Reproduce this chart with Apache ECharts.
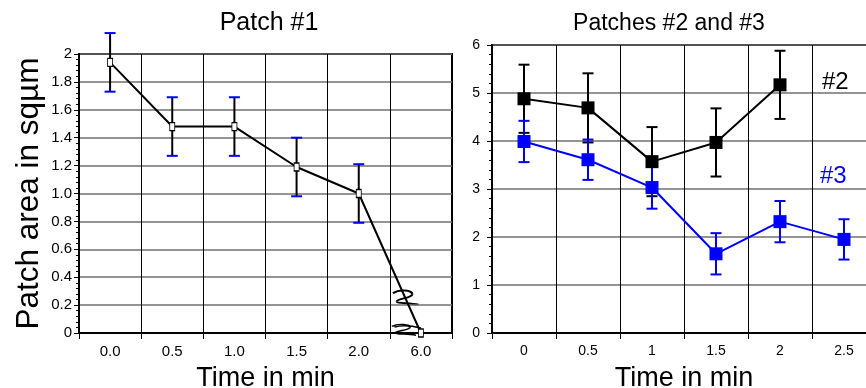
<!DOCTYPE html>
<html>
<head>
<meta charset="utf-8">
<script src="https://cdn.jsdelivr.net/npm/echarts@6/dist/echarts.min.js"></script>
<style>
  html, body { margin: 0; padding: 0; background: #fff; }
  #chart { width: 866px; height: 388px; }
</style>
</head>
<body>
<div id="chart"></div>
<script>
// Patch #1 (left panel)
var timeLeft = ['0.0', '0.5', '1.0', '1.5', '2.0', '6.0'];
var patch1 = [1.94, 1.48, 1.48, 1.19, 1.0, 0];
var patch1Err = [0.21, 0.21, 0.21, 0.21, 0.21, null];

// Patches #2 and #3 (right panel)
var timeRight = ['0', '0.5', '1', '1.5', '2', '2.5'];
var patch2 = [4.88, 4.69, 3.57, 3.97, 5.17, null];
var patch2Err = [0.71, 0.72, 0.72, 0.71, 0.71, null];
var patch3 = [3.99, 3.61, 3.03, 1.65, 2.32, 1.95];
var patch3Err = [0.43, 0.42, 0.44, 0.43, 0.43, 0.42];

var FONT = 'Liberation Sans, Arial, sans-serif';

// build [index, low, high] for the error bar series
function errData(mean, err) {
    var out = [];
    mean.forEach(function (m, i) {
        if (m == null || err[i] == null) return;
        out.push([i, m - err[i], m + err[i]]);
    });
    return out;
}

// error bar: stem in one colour, caps in another
function errBar(stemColor, capColor, capW) {
    return function (params, api) {
        var lo = api.coord([api.value(0), api.value(1)]);
        var hi = api.coord([api.value(0), api.value(2)]);
        var x = hi[0];
        return {
            type: 'group',
            children: [
                { type: 'line', shape: { x1: x, y1: hi[1], x2: x, y2: lo[1] }, style: { stroke: stemColor, lineWidth: 2 } },
                { type: 'line', shape: { x1: x - capW / 2, y1: hi[1], x2: x + capW / 2, y2: hi[1] }, style: { stroke: capColor, lineWidth: 2 } },
                { type: 'line', shape: { x1: x - capW / 2, y1: lo[1], x2: x + capW / 2, y2: lo[1] }, style: { stroke: capColor, lineWidth: 2 } }
            ]
        };
    };
}

function xAxisOf(gridIndex, cats, labelSize) {
    return {
        type: 'category',
        gridIndex: gridIndex,
        data: cats,
        boundaryGap: true,
        name: 'Time in min',
        nameLocation: 'middle',
        nameGap: 32,
        nameTextStyle: { fontSize: 27, color: '#000', fontFamily: FONT },
        axisLine: { lineStyle: { color: '#000', width: 2 } },
        axisTick: { show: true, length: 6, lineStyle: { color: '#000', width: 1 } },
        axisLabel: { fontSize: labelSize, color: '#000', fontFamily: FONT, margin: 11 },
        splitLine: { show: true, lineStyle: { color: '#000', width: 1 } }
    };
}

function yAxisOf(gridIndex, max, interval, margin, labelSize) {
    return {
        type: 'value',
        gridIndex: gridIndex,
        min: 0,
        max: max,
        interval: interval,
        axisLine: { show: true, lineStyle: { color: '#000', width: 2 } },
        axisTick: { show: true, length: 5, lineStyle: { color: '#000' } },
        minorTick: { show: true, splitNumber: 5, length: 3, lineStyle: { color: '#000' } },
        axisLabel: { fontSize: labelSize, color: '#000', fontFamily: FONT, margin: margin },
        splitLine: { show: true, lineStyle: { color: '#707070', width: 1.5 } }
    };
}

// squiggle used as the axis break sign, made of bezier pieces
function squiggle(x, y, sx, sy, extra) {
    var curves = [
        [0, 3, 5, -1, 15, 0, 15, 4],
        [15, 4, 15, 8, 3, 8, 3, 11],
        [3, 11, 3, 13, 12, 12, 20, 14]
    ];
    if (extra) curves.push([2, 4, 8, 1, 16, 2, 24, 5]);
    return {
        type: 'group', x: x, y: y, scaleX: sx, scaleY: sy,
        children: curves.map(function (c) {
            return {
                type: 'bezierCurve',
                shape: { x1: c[0], y1: c[1], cpx1: c[2], cpy1: c[3], cpx2: c[4], cpy2: c[5], x2: c[6], y2: c[7] },
                style: { fill: null, stroke: '#000', lineWidth: 1.8 }
            };
        })
    };
}

var yLeftLabel = function (v) {
    return (v === 0 || v === 2) ? String(v) : v.toFixed(1);
};

var yLeft = yAxisOf(0, 2, 0.2, 7, 15);
yLeft.axisLabel.formatter = yLeftLabel;
yLeft.name = 'Patch area in sq\u00b5m';
yLeft.nameLocation = 'middle';
yLeft.nameGap = 34;
yLeft.nameTextStyle = { fontSize: 31.5, color: '#000', fontFamily: FONT };

var chart = echarts.init(document.getElementById('chart'));
var option = {
    backgroundColor: '#fff',
    animation: false,
    title: [
        { text: 'Patch #1', left: 264, top: 6, textAlign: 'center', textStyle: { fontSize: 25, fontWeight: 'normal', color: '#000', fontFamily: FONT } },
        { text: 'Patches #2 and #3', left: 664, top: 7, textAlign: 'center', textStyle: { fontSize: 23, fontWeight: 'normal', color: '#000', fontFamily: FONT } }
    ],
    grid: [
        { left: 79, top: 54, width: 373, height: 279, outerBoundsMode: 'none', show: true, borderColor: '#000', borderWidth: 2 },
        { left: 492, top: 45, width: 384, height: 288, outerBoundsMode: 'none', show: true, borderColor: '#000', borderWidth: 2 }
    ],
    xAxis: [xAxisOf(0, timeLeft, 15), xAxisOf(1, timeRight, 14)],
    yAxis: [yLeft, yAxisOf(1, 6, 1, 12, 14)],
    graphic: [
        squiggle(393, 290, 1.28, 1.05, false),
        squiggle(392, 324, 1.2, 0.8, true),
        { type: 'text', left: 822, top: 70, style: { text: '#2', fontSize: 24, fill: '#000', fontFamily: FONT } },
        { type: 'text', left: 820, top: 164, style: { text: '#3', fontSize: 24, fill: '#0000ff', fontFamily: FONT } }
    ],
    series: [
        {
            type: 'custom', xAxisIndex: 0, yAxisIndex: 0, z: 3,
            renderItem: errBar('#000', '#0000ff', 11),
            data: errData(patch1, patch1Err)
        },
        {
            type: 'line', xAxisIndex: 0, yAxisIndex: 0, z: 4,
            data: patch1,
            symbol: 'rect', symbolSize: [5, 8],
            itemStyle: { color: '#fff', borderColor: '#000', borderWidth: 1 },
            lineStyle: { color: '#000', width: 2 }
        },
        {
            type: 'custom', xAxisIndex: 1, yAxisIndex: 1, z: 3,
            renderItem: errBar('#000', '#000', 11),
            data: errData(patch2, patch2Err)
        },
        {
            type: 'custom', xAxisIndex: 1, yAxisIndex: 1, z: 3,
            renderItem: errBar('#0000ff', '#0000ff', 11),
            data: errData(patch3, patch3Err)
        },
        {
            type: 'line', xAxisIndex: 1, yAxisIndex: 1, z: 4,
            data: patch2,
            symbol: 'rect', symbolSize: 13,
            itemStyle: { color: '#000' },
            lineStyle: { color: '#000', width: 2 }
        },
        {
            type: 'line', xAxisIndex: 1, yAxisIndex: 1, z: 4,
            data: patch3,
            symbol: 'rect', symbolSize: 13,
            itemStyle: { color: '#0000ff' },
            lineStyle: { color: '#0000ff', width: 2 }
        }
    ]
};
chart.setOption(option);
</script>
</body>
</html>
